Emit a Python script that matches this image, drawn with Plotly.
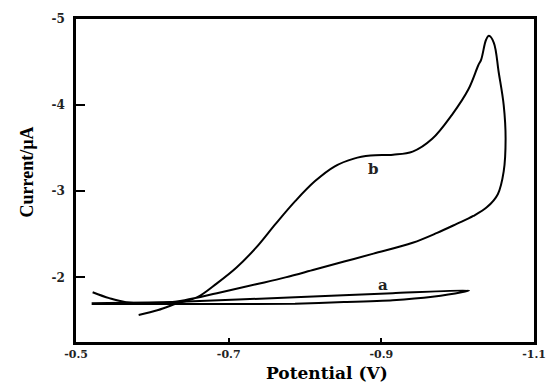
import plotly.graph_objects as go

# Curve b (cyclic voltammogram): forward scan then return scan
b_potential = [-0.5821, -0.6077, -0.6333, -0.659, -0.6846, -0.7103, -0.7359, -0.7615, -0.7872, -0.8128,
               -0.8385, -0.8641, -0.8859, -0.9154, -0.941, -0.9667, -0.9923, -1.0141, -1.0269, -1.0308,
               -1.0372, -1.041, -1.0474, -1.0538, -1.0603, -1.0628, -1.0603, -1.0526, -1.0385, -1.0205,
               -0.9987, -0.9731, -0.941, -0.8897, -0.8513, -0.8128, -0.7744, -0.7359, -0.6846, -0.6423,
               -0.6077, -0.5654, -0.5436, -0.5218]
b_current = [-1.563, -1.621, -1.701, -1.770, -1.931, -2.115, -2.345, -2.621, -2.885, -3.115,
             -3.287, -3.379, -3.414, -3.425, -3.46, -3.609, -3.885, -4.184, -4.460, -4.529,
             -4.759, -4.805, -4.724, -4.379, -4.0, -3.609, -3.230, -2.966, -2.816, -2.713,
             -2.621, -2.517, -2.402, -2.276, -2.184, -2.092, -2.0, -1.920, -1.816, -1.736,
             -1.701, -1.713, -1.759, -1.828]

# Curve a
a_potential = [-0.5205, -0.637, -0.787, -0.915, -1.015, -1.005, -0.967, -0.915, -0.851, -0.787, -0.659, -0.5205]
a_current = [-1.701, -1.718, -1.77, -1.816, -1.85, -1.828, -1.776, -1.736, -1.713, -1.695, -1.69, -1.69]

x_ticks = [-0.5, -0.7, -0.9, -1.1]
x_ticktext = ["-0.5", "-0.7", "-0.9", "-1.1"]
y_ticks = [-5, -4, -3, -2]
y_ticktext = ["-5", "-4", "-3", "-2"]

fig = go.Figure()
fig.add_trace(go.Scatter(x=b_potential, y=b_current, mode="lines",
                         line=dict(color="black", width=2, shape="spline", smoothing=1.0), showlegend=False))
fig.add_trace(go.Scatter(x=a_potential, y=a_current, mode="lines",
                         line=dict(color="black", width=2, shape="spline", smoothing=0.6), showlegend=False))

serif = "DejaVu Serif"
fig.add_annotation(x=-0.8897, y=-3.264, text="b", showarrow=False,
                   font=dict(family=serif, size=15, color="#222", weight="bold"))
fig.add_annotation(x=-0.9026, y=-1.908, text="a", showarrow=False,
                   font=dict(family=serif, size=15, color="#222", weight="bold"))

fig.add_annotation(x=0.549, y=-0.097, xref="paper", yref="paper", text="Potential (V)",
                   showarrow=False, xanchor="center", yanchor="middle",
                   font=dict(family=serif, size=17, color="black", weight="bold"))
fig.add_annotation(x=-0.107, y=0.528, xref="paper", yref="paper", text="Current/µA",
                   showarrow=False, textangle=-90, xanchor="center", yanchor="middle",
                   font=dict(family="Liberation Sans Narrow", size=18, color="black", weight="bold"))

fig.update_xaxes(range=[-0.5, -1.1], tickvals=x_ticks, ticktext=x_ticktext,
                 ticks="inside", ticklen=4, tickwidth=1.5, tickcolor="black",
                 showline=True, linecolor="black", linewidth=2.5, mirror=True,
                 showgrid=False, zeroline=False, ticklabelstandoff=0,
                 tickfont=dict(family=serif, size=11, color="#222", weight="bold"))
fig.update_yaxes(range=[-1.25, -5], tickvals=y_ticks, ticktext=y_ticktext,
                 ticks="inside", ticklen=9, tickwidth=1.5, tickcolor="black",
                 showline=True, linecolor="black", linewidth=2.5, mirror=True,
                 showgrid=False, zeroline=False, ticklabelstandoff=6,
                 tickfont=dict(family=serif, size=12, color="#222", weight="bold"))

fig.update_layout(width=558, height=383, margin=dict(l=76, r=14, t=16, b=41),
                  plot_bgcolor="white", paper_bgcolor="white")

fig.write_html("out.html")
